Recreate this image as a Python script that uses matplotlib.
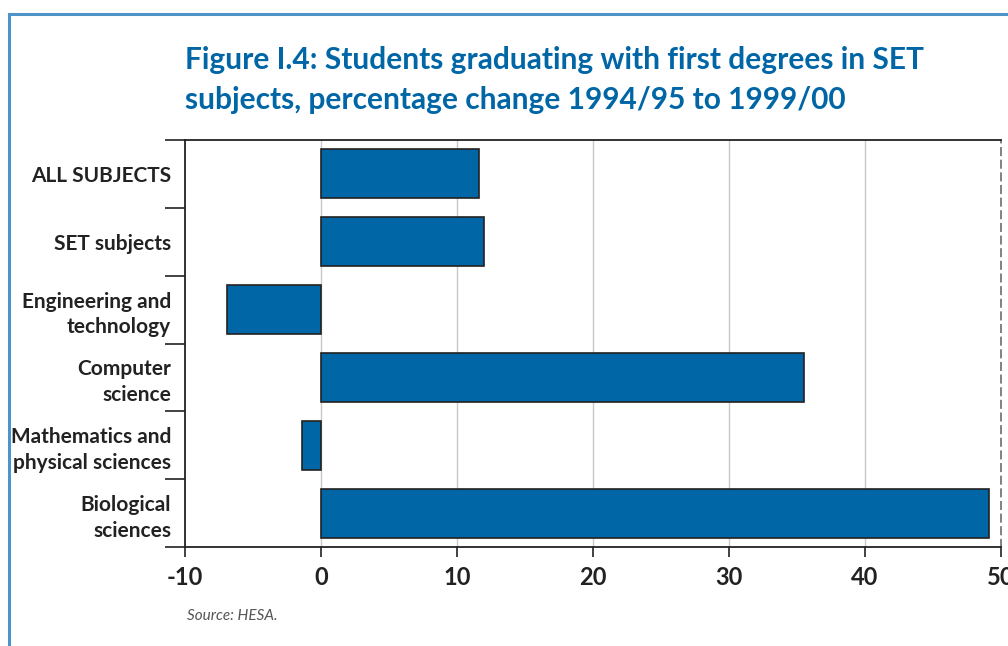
import matplotlib
matplotlib.use("Agg")
import matplotlib.pyplot as plt
from matplotlib.lines import Line2D
import numpy as np

categories = ["ALL SUBJECTS", "SET subjects", "Engineering and\ntechnology",
              "Computer\nscience", "Mathematics and\nphysical sciences",
              "Biological\nsciences"]
values = [11.6, 12.0, -6.9, 35.5, -1.4, 49.1]
xticks = [-10, 0, 10, 20, 30, 40, 50]
xtick_labels = ["-10", "0", "10", "20", "30", "40", "50"]

W, H = 1008, 646
fig = plt.figure(figsize=(W / 100, H / 100), dpi=100)
plt.rcParams['font.family'] = ['Lato', 'DejaVu Sans']

# frame
fig.add_artist(Line2D([9 / W, 9 / W], [0, 1 - 14 / H], color="#4f94c8", lw=2.2, transform=fig.transFigure))
fig.add_artist(Line2D([9 / W, 1], [1 - 14 / H, 1 - 14 / H], color="#4f94c8", lw=2.2, transform=fig.transFigure))

left, right, top, bottom = 185, 1001, 140, 547
ax = fig.add_axes([left / W, 1 - bottom / H, (right - left) / W, (bottom - top) / H])

y = np.arange(len(categories))
ax.barh(y, values, height=0.72, color="#0066a6", edgecolor="#222222", linewidth=1.2, zorder=3)
ax.set_ylim(len(categories) - 0.5, -0.5)
ax.set_xlim(-10, 50)

ax.set_yticks(y)
ax.set_yticklabels(categories, fontsize=15, fontweight="bold", color="#222222", linespacing=1.35)
ax.tick_params(axis="y", which="major", length=0, pad=10)
ax.set_yticks(np.arange(-0.5, len(categories)), minor=True)
ax.tick_params(axis="y", which="minor", length=14.4, width=1.2, color="#222222")

ax.set_xticks(xticks)
ax.set_xticklabels(xtick_labels, fontsize=17, fontweight="bold", color="#222222")
ax.tick_params(axis="x", which="major", length=7, width=1.2, color="#222222", pad=7)

for xv in xticks[1:-1]:
    ax.axvline(xv, color="#c8c8c8", lw=1.0, zorder=1)

for s in ["top", "bottom", "left"]:
    ax.spines[s].set_color("#222222")
    ax.spines[s].set_linewidth(1.3)
ax.spines["right"].set_color("#777777")
ax.spines["right"].set_linestyle((0, (4, 3)))
ax.spines["right"].set_linewidth(1.3)

fig.text(185 / W, 1 - 60 / H, "Figure I.4: Students graduating with first degrees in SET",
         fontsize=21.5, fontweight="bold", color="#0066a6", va="center", ha="left")
fig.text(185 / W, 1 - 100 / H, "subjects, percentage change 1994/95 to 1999/00",
         fontsize=21.5, fontweight="bold", color="#0066a6", va="center", ha="left")
fig.text(187 / W, 1 - 616 / H, "Source: HESA.", fontsize=11, style="italic",
         color="#555555", va="center", ha="left")

fig.savefig("out.png", dpi=100)
